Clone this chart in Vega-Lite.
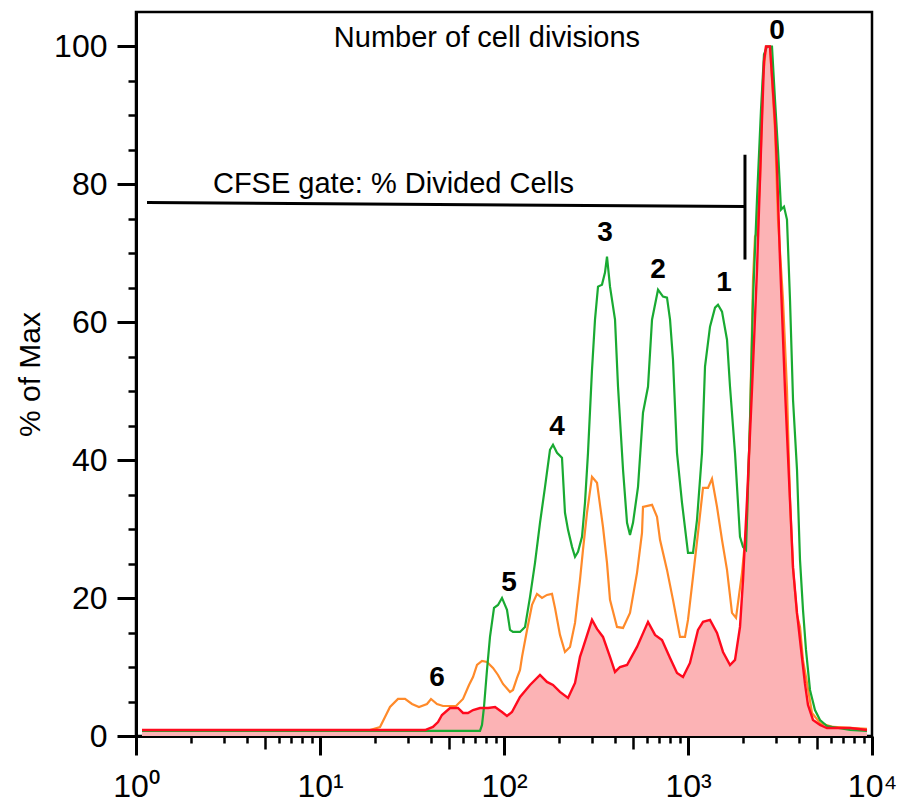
{
  "$schema": "https://vega.github.io/schema/vega-lite/v6.json",
  "width": 736,
  "height": 724,
  "autosize": {"type": "none"},
  "padding": {"left": 136, "top": 12, "right": 26, "bottom": 70},
  "background": "#ffffff",
  "config": {
    "view": {"stroke": "#000000", "strokeWidth": 2.5},
    "axis": {
      "domainColor": "#000000",
      "tickColor": "#000000",
      "labelColor": "#000000",
      "titleColor": "#000000",
      "labelFont": "Liberation Sans",
      "titleFont": "Liberation Sans",
      "grid": false,
      "labelFlush": false,
      "labelOverlap": false,
      "labelBound": false
    },
    "text": {"font": "Liberation Sans", "color": "#000000"}
  },
  "datasets": {
    "red": [
      {"x": 1.078, "y": 0.87}, {"x": 18.7, "y": 0.87}, {"x": 37.2, "y": 0.87}, {"x": 41.1, "y": 1.31},
      {"x": 43.8, "y": 2.03}, {"x": 46.0, "y": 3.05}, {"x": 50.9, "y": 4.06}, {"x": 56.2, "y": 4.06},
      {"x": 59.9, "y": 3.34}, {"x": 63.7, "y": 3.34}, {"x": 67.9, "y": 3.77}, {"x": 74.1, "y": 4.06},
      {"x": 81.9, "y": 4.06}, {"x": 89.4, "y": 4.21}, {"x": 97.5, "y": 3.48}, {"x": 103.8, "y": 2.9},
      {"x": 110.5, "y": 3.48}, {"x": 122.2, "y": 5.66}, {"x": 138.5, "y": 7.4}, {"x": 156.9, "y": 8.85},
      {"x": 171.2, "y": 7.84}, {"x": 184.6, "y": 7.4}, {"x": 201.5, "y": 6.39}, {"x": 222.8, "y": 5.52},
      {"x": 243.2, "y": 7.69}, {"x": 258.8, "y": 11.47}, {"x": 268.7, "y": 12.77}, {"x": 300.8, "y": 16.84},
      {"x": 320.2, "y": 15.53}, {"x": 345.1, "y": 14.37}, {"x": 376.8, "y": 11.47}, {"x": 401.2, "y": 9.29},
      {"x": 427, "y": 10.01}, {"x": 466.3, "y": 10.3}, {"x": 528.3, "y": 12.92}, {"x": 606.2, "y": 16.55},
      {"x": 661.9, "y": 14.66}, {"x": 722.4, "y": 13.93}, {"x": 798.7, "y": 11.32}, {"x": 871.4, "y": 9.14},
      {"x": 939.2, "y": 8.56}, {"x": 1025, "y": 10.6}, {"x": 1133, "y": 15.38}, {"x": 1207, "y": 16.55},
      {"x": 1317, "y": 16.84}, {"x": 1438, "y": 14.95}, {"x": 1550, "y": 12.19}, {"x": 1692, "y": 10.3},
      {"x": 1801, "y": 11.03}, {"x": 1917, "y": 15.82}, {"x": 1991, "y": 22.64}, {"x": 2093, "y": 34.25},
      {"x": 2227, "y": 50.22}, {"x": 2371, "y": 67.63}, {"x": 2493, "y": 85.05}, {"x": 2588, "y": 97.82},
      {"x": 2654, "y": 100}, {"x": 2790, "y": 100}, {"x": 2970, "y": 89.26}, {"x": 3045, "y": 82.58},
      {"x": 3162, "y": 69.09}, {"x": 3367, "y": 50.22}, {"x": 3584, "y": 34.11}, {"x": 3722, "y": 24.38},
      {"x": 3912, "y": 17.85}, {"x": 4165, "y": 11.32}, {"x": 4324, "y": 7.55}, {"x": 4489, "y": 4.5},
      {"x": 4779, "y": 2.32}, {"x": 5218, "y": 1.6}, {"x": 5692, "y": 1.16}, {"x": 7594, "y": 1.16},
      {"x": 9393, "y": 0.87}
    ],
    "orange": [
      {"x": 1.078, "y": 0.87}, {"x": 18.7, "y": 0.87}, {"x": 21.19, "y": 1.31}, {"x": 22.56, "y": 2.76},
      {"x": 24.01, "y": 4.21}, {"x": 26.54, "y": 5.37}, {"x": 28.97, "y": 5.37}, {"x": 31.62, "y": 4.64},
      {"x": 34.51, "y": 4.21}, {"x": 38.15, "y": 4.64}, {"x": 40.11, "y": 5.37}, {"x": 43.24, "y": 4.64},
      {"x": 46.62, "y": 4.35}, {"x": 54.84, "y": 4.35}, {"x": 59.87, "y": 5.37}, {"x": 64.54, "y": 7.4},
      {"x": 67.85, "y": 8.56}, {"x": 71.34, "y": 10.3}, {"x": 75.94, "y": 10.89}, {"x": 80.83, "y": 10.74},
      {"x": 87.14, "y": 9.87}, {"x": 92.77, "y": 8.85}, {"x": 98.76, "y": 7.55}, {"x": 107.8, "y": 6.39},
      {"x": 111.9, "y": 6.68}, {"x": 117.7, "y": 8.42}, {"x": 122.2, "y": 9.58}, {"x": 125.3, "y": 11.47},
      {"x": 133.4, "y": 15.38}, {"x": 142, "y": 19.01}, {"x": 151.1, "y": 20.61}, {"x": 160.9, "y": 20.03},
      {"x": 171.2, "y": 20.46}, {"x": 182.3, "y": 20.61}, {"x": 189.3, "y": 18.58}, {"x": 201.5, "y": 14.66},
      {"x": 214.5, "y": 12.19}, {"x": 228.4, "y": 12.92}, {"x": 243.2, "y": 16.4}, {"x": 258.8, "y": 22.64},
      {"x": 268.7, "y": 27}, {"x": 282.5, "y": 32.37}, {"x": 300.8, "y": 37.59}, {"x": 320.2, "y": 36.72},
      {"x": 345.1, "y": 30.33}, {"x": 362.9, "y": 25.11}, {"x": 376.8, "y": 19.74}, {"x": 411.3, "y": 15.82},
      {"x": 443.5, "y": 15.67}, {"x": 483.9, "y": 17.85}, {"x": 528.3, "y": 23.66}, {"x": 562.3, "y": 29.46},
      {"x": 569.4, "y": 33.24}, {"x": 637.4, "y": 33.53}, {"x": 678.5, "y": 31.79}, {"x": 704.4, "y": 28.45},
      {"x": 768.9, "y": 24.09}, {"x": 828.8, "y": 19.74}, {"x": 904.9, "y": 14.37}, {"x": 962.9, "y": 14.37},
      {"x": 1000, "y": 16.84}, {"x": 1064.6, "y": 23.08}, {"x": 1133.4, "y": 29.46}, {"x": 1206.6, "y": 35.99},
      {"x": 1284.6, "y": 35.99}, {"x": 1350.3, "y": 37.3}, {"x": 1437.5, "y": 33.24}, {"x": 1530.4, "y": 28.45},
      {"x": 1629.3, "y": 24.09}, {"x": 1734.4, "y": 17.85}, {"x": 1823.5, "y": 17.13}, {"x": 1965.7, "y": 23.66},
      {"x": 2093, "y": 31.35}, {"x": 2173, "y": 45.86}, {"x": 2256, "y": 66.18}, {"x": 2313, "y": 72.42},
      {"x": 2371, "y": 73.0}, {"x": 2462, "y": 80.7}, {"x": 2556, "y": 95.21}, {"x": 2654, "y": 100},
      {"x": 2790, "y": 100}, {"x": 2970, "y": 87.95}, {"x": 3084, "y": 74.89}, {"x": 3283, "y": 63.28},
      {"x": 3451, "y": 50.22}, {"x": 3584, "y": 34.25}, {"x": 3722, "y": 24.38}, {"x": 3912, "y": 17.56},
      {"x": 4062, "y": 15.82}, {"x": 4217, "y": 11.03}, {"x": 4434, "y": 7.69}, {"x": 4720, "y": 3.34},
      {"x": 5218, "y": 1.89}, {"x": 6138, "y": 1.31}, {"x": 9393, "y": 1.02}
    ],
    "green": [
      {"x": 1.078, "y": 0.73}, {"x": 74.07, "y": 0.73}, {"x": 75.94, "y": 1.6}, {"x": 77.86, "y": 4.21},
      {"x": 80.83, "y": 9.58}, {"x": 83.92, "y": 14.37}, {"x": 88.25, "y": 18.58}, {"x": 92.77, "y": 19.01},
      {"x": 97.52, "y": 20.03}, {"x": 103.8, "y": 18.29}, {"x": 107.8, "y": 15.38}, {"x": 111.9, "y": 15.09},
      {"x": 122.2, "y": 15.09}, {"x": 130.1, "y": 15.82}, {"x": 138.5, "y": 20.17}, {"x": 147.4, "y": 25.11},
      {"x": 156.9, "y": 30.91}, {"x": 167.1, "y": 36.14}, {"x": 177.8, "y": 41.51}, {"x": 184.6, "y": 42.24},
      {"x": 194.1, "y": 41.07}, {"x": 206.6, "y": 40.35}, {"x": 214.5, "y": 32.37}, {"x": 222.8, "y": 29.9},
      {"x": 234.3, "y": 27.43}, {"x": 243.2, "y": 25.98}, {"x": 252.5, "y": 26.71}, {"x": 265.4, "y": 28.88},
      {"x": 275.5, "y": 33.82}, {"x": 286.1, "y": 41.07}, {"x": 300.8, "y": 53.12}, {"x": 312.3, "y": 60.38},
      {"x": 324.3, "y": 65.17}, {"x": 340.9, "y": 65.46}, {"x": 353.9, "y": 67.2}, {"x": 362.9, "y": 69.52},
      {"x": 376.8, "y": 65.17}, {"x": 401.2, "y": 60.38}, {"x": 416.6, "y": 50.65}, {"x": 443.5, "y": 38.61},
      {"x": 466.3, "y": 30.91}, {"x": 483.9, "y": 29.17}, {"x": 502.5, "y": 30.91}, {"x": 535, "y": 36.14},
      {"x": 569.4, "y": 46.88}, {"x": 606.2, "y": 50.65}, {"x": 637.4, "y": 60.38}, {"x": 687.1, "y": 64.73},
      {"x": 731.3, "y": 63.72}, {"x": 768.9, "y": 63.57}, {"x": 798.7, "y": 60.38}, {"x": 828.8, "y": 54.57},
      {"x": 871.4, "y": 41.07}, {"x": 927.8, "y": 33.82}, {"x": 1000, "y": 26.56}, {"x": 1064.6, "y": 26.56},
      {"x": 1119.3, "y": 31.35}, {"x": 1191.6, "y": 41.07}, {"x": 1237.2, "y": 53.56}, {"x": 1317, "y": 59.36},
      {"x": 1402.5, "y": 62.12}, {"x": 1455.5, "y": 62.55}, {"x": 1530.4, "y": 61.54}, {"x": 1629.3, "y": 57.47},
      {"x": 1691.8, "y": 50.65}, {"x": 1800.6, "y": 41.07}, {"x": 1916.9, "y": 28.88}, {"x": 1990.5, "y": 27.43},
      {"x": 2066.5, "y": 27.0}, {"x": 2173, "y": 45.86}, {"x": 2256, "y": 63.28}, {"x": 2371, "y": 77.79},
      {"x": 2493, "y": 90.86}, {"x": 2588, "y": 98.84}, {"x": 2687, "y": 100}, {"x": 2861, "y": 100},
      {"x": 2970, "y": 92.31}, {"x": 3084, "y": 85.05}, {"x": 3202, "y": 76.34}, {"x": 3324, "y": 76.78},
      {"x": 3451, "y": 74.89}, {"x": 3584, "y": 63.28}, {"x": 3722, "y": 48.77}, {"x": 3912, "y": 38.61},
      {"x": 4062, "y": 25.54}, {"x": 4217, "y": 18.29}, {"x": 4378, "y": 12.48}, {"x": 4603, "y": 6.68},
      {"x": 4899, "y": 3.77}, {"x": 5218, "y": 2.32}, {"x": 5692, "y": 1.45}, {"x": 7594, "y": 0.87},
      {"x": 9393, "y": 0.73}
    ],
    "gate": [
      {"x": 1.148, "x2": 2040, "y": 77.36, "y2": 76.78},
      {"x": 2040, "x2": 2040, "y": 84.3, "y2": 69.1}
    ],
    "title": [
      {"label": "Number of cell divisions", "x": 80.8, "y": 101.2}
    ],
    "gatelabel": [
      {"label": "CFSE gate: % Divided Cells", "x": 2.62, "y": 80.0}
    ],
    "peaks": [
      {"label": "0", "x": 3045, "y": 102.2},
      {"label": "1", "x": 1569, "y": 65.7},
      {"label": "2", "x": 687, "y": 67.6},
      {"label": "3", "x": 354, "y": 73.0},
      {"label": "4", "x": 194, "y": 44.8},
      {"label": "5", "x": 106.5, "y": 22.2},
      {"label": "6", "x": 43.2, "y": 8.4}
    ]
  },
  "layer": [
    {
      "data": {"name": "red"},
      "mark": {"type": "area", "color": "#fcb3b5", "interpolate": "linear"},
      "encoding": {
        "x": {"field": "x", "type": "quantitative",
          "scale": {"type": "log", "domain": [1, 10000], "nice": false},
          "axis": {"orient": "bottom", "values": [1, 10, 100, 1000, 10000], "tickSize": 19, "tickWidth": 3,
            "domainWidth": 3, "labelFontSize": 32, "labelPadding": 16, "title": null,
            "labelExpr": "'10' + ['⁰','¹','²','³','⁴'][round(log(datum.value)/LN10)]"}},
        "y": {"field": "y", "type": "quantitative",
          "scale": {"domain": [0, 105], "nice": false, "zero": false},
          "axis": {"orient": "left", "values": [0, 20, 40, 60, 80, 100], "tickSize": 19, "tickWidth": 3,
            "domainWidth": 3, "labelFontSize": 32, "labelPadding": 10,
            "title": "% of Max", "titleFontSize": 30, "titleFontWeight": "normal", "titlePadding": 8}}
      }
    },
    {
      "data": {"name": "orange"},
      "mark": {"type": "line", "color": "#ff8a2a", "strokeWidth": 2.2},
      "encoding": {
        "x": {"field": "x", "type": "quantitative",
          "scale": {"type": "log", "domain": [1, 10000], "nice": false},
          "axis": {"orient": "bottom", "values": [5, 50, 500, 5000], "tickSize": 13, "tickWidth": 2.5,
            "domain": false, "labels": false, "title": null}},
        "y": {"field": "y", "type": "quantitative",
          "scale": {"domain": [0, 105], "nice": false, "zero": false},
          "axis": {"orient": "left", "values": [5, 10, 15, 25, 30, 35, 45, 50, 55, 65, 70, 75, 85, 90, 95],
            "tickSize": 8, "tickWidth": 2.5, "domain": false, "labels": false, "title": null}}
      }
    },
    {
      "data": {"name": "green"},
      "mark": {"type": "line", "color": "#19aa32", "strokeWidth": 2.2},
      "encoding": {
        "x": {"field": "x", "type": "quantitative",
          "scale": {"type": "log", "domain": [1, 10000], "nice": false},
          "axis": {"orient": "bottom",
            "values": [2, 3, 4, 6, 7, 8, 9, 20, 30, 40, 60, 70, 80, 90, 200, 300, 400, 600, 700, 800, 900, 2000, 3000, 4000, 6000, 7000, 8000, 9000],
            "tickSize": 7, "tickWidth": 2.5, "domain": false, "labels": false, "title": null}},
        "y": {"field": "y", "type": "quantitative",
          "scale": {"domain": [0, 105], "nice": false, "zero": false}, "axis": null}
      }
    },
    {
      "data": {"name": "red"},
      "mark": {"type": "line", "color": "#ff0a1e", "strokeWidth": 2.4},
      "encoding": {
        "x": {"field": "x", "type": "quantitative",
          "scale": {"type": "log", "domain": [1, 10000], "nice": false}, "axis": null},
        "y": {"field": "y", "type": "quantitative",
          "scale": {"domain": [0, 105], "nice": false, "zero": false}, "axis": null}
      }
    },
    {
      "data": {"name": "gate"},
      "mark": {"type": "rule", "color": "#000000", "strokeWidth": 3},
      "encoding": {
        "x": {"field": "x", "type": "quantitative",
          "scale": {"type": "log", "domain": [1, 10000], "nice": false}, "axis": null},
        "x2": {"field": "x2"},
        "y": {"field": "y", "type": "quantitative",
          "scale": {"domain": [0, 105], "nice": false, "zero": false}, "axis": null},
        "y2": {"field": "y2"}
      }
    },
    {
      "data": {"name": "title"},
      "mark": {"type": "text", "fontSize": 29, "baseline": "middle", "align": "center"},
      "encoding": {
        "x": {"field": "x", "type": "quantitative",
          "scale": {"type": "log", "domain": [1, 10000], "nice": false}, "axis": null},
        "y": {"field": "y", "type": "quantitative",
          "scale": {"domain": [0, 105], "nice": false, "zero": false}, "axis": null},
        "text": {"field": "label"}
      }
    },
    {
      "data": {"name": "gatelabel"},
      "mark": {"type": "text", "fontSize": 29, "baseline": "middle", "align": "left"},
      "encoding": {
        "x": {"field": "x", "type": "quantitative",
          "scale": {"type": "log", "domain": [1, 10000], "nice": false}, "axis": null},
        "y": {"field": "y", "type": "quantitative",
          "scale": {"domain": [0, 105], "nice": false, "zero": false}, "axis": null},
        "text": {"field": "label"}
      }
    },
    {
      "data": {"name": "peaks"},
      "mark": {"type": "text", "fontSize": 28, "fontWeight": "bold", "baseline": "middle", "align": "center"},
      "encoding": {
        "x": {"field": "x", "type": "quantitative",
          "scale": {"type": "log", "domain": [1, 10000], "nice": false}, "axis": null},
        "y": {"field": "y", "type": "quantitative",
          "scale": {"domain": [0, 105], "nice": false, "zero": false}, "axis": null},
        "text": {"field": "label"}
      }
    }
  ],
  "resolve": {"axis": {"x": "independent", "y": "independent"}}
}
